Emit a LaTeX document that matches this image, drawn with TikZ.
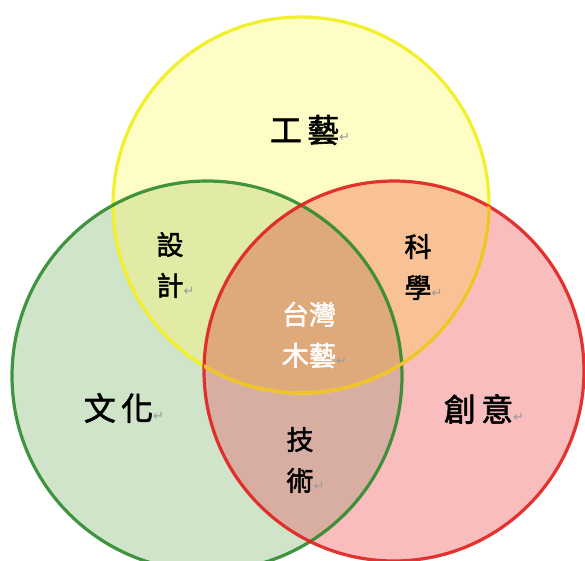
\documentclass[tikz,border=0pt]{standalone}
\usepackage{fontspec}
\newfontfamily\cjk{Noto Sans CJK TC}[FakeBold=1.8]
\newfontfamily\dv{DejaVu Sans}
\definecolor{fillY}{HTML}{FEFDC6}
\definecolor{fillG}{HTML}{CFE4C9}
\definecolor{fillR}{HTML}{F9BDBD}
\definecolor{fillYG}{HTML}{E2EBA6}
\definecolor{fillYR}{HTML}{F8C296}
\definecolor{fillGR}{HTML}{D9AEA2}
\definecolor{fillC}{HTML}{DEAA7C}
\definecolor{lineY}{HTML}{F2F02A}
\definecolor{lineG}{HTML}{2E8A2E}
\definecolor{lineR}{HTML}{E0201E}
\definecolor{markgray}{HTML}{9A9A9A}
\tikzset{
  ring/.style={line width=3.2pt},
  biglabel/.style={font=\cjk\fontsize{32}{36}\selectfont, text=black, inner sep=0pt},
  smalllabel/.style={font=\cjk\fontsize{27}{41}\selectfont, text=black, inner sep=0pt, align=center},
}
\newcommand{\retmark}{{\dv\fontsize{13}{13}\selectfont\textcolor{markgray}{↵}}}
\begin{document}
\begin{tikzpicture}[x=1pt,y=-1pt]
\useasboundingbox (0,0) rectangle (585,560);
\fill[white] (0,0) rectangle (585,560);
\coordinate (cy) at (301,205);
\coordinate (cg) at (207,376);
\coordinate (cr) at (394,371);
\def\Ycirc{(cy) circle[radius=188pt]}
\def\Gcirc{(cg) circle[radius=195pt]}
\def\Rcirc{(cr) circle[radius=190pt]}
\fill[fillY] \Ycirc;
\fill[fillG] \Gcirc;
\fill[fillR] \Rcirc;
\begin{scope}\clip \Ycirc; \fill[fillYG] \Gcirc; \end{scope}
\begin{scope}\clip \Ycirc; \fill[fillYR] \Rcirc; \end{scope}
\begin{scope}\clip \Gcirc; \fill[fillGR] \Rcirc; \end{scope}
\begin{scope}\clip \Ycirc; \clip \Gcirc; \fill[fillC] \Rcirc; \end{scope}
\draw[ring, lineY] \Ycirc;
\draw[ring, lineG, opacity=0.9] \Gcirc;
\draw[ring, lineR, opacity=0.9] \Rcirc;
\begin{scope}\clip \Rcirc; \draw[ring, color={rgb,255:red,240;green,196;blue,40}] \Ycirc; \end{scope}
\node[biglabel] (gongyi) at (310,130) {工\,藝\retmark};
\node[biglabel] (wenhua) at (124,408) {文\,化\retmark};
\node[biglabel] (chuangyi) at (484,409) {創\,意\retmark};
\node[smalllabel] (sheji) at (170,265) {設\\計\rlap{\retmark}};
\node[smalllabel] (kexue) at (418,267) {科\\學\rlap{\retmark}};
\node[smalllabel, text=white] (muyi) at (309,335) {台灣\\木藝\rlap{\retmark}};
\node[smalllabel] (jishu) at (300,460) {技\\術\rlap{\retmark}};
\end{tikzpicture}
\end{document}
